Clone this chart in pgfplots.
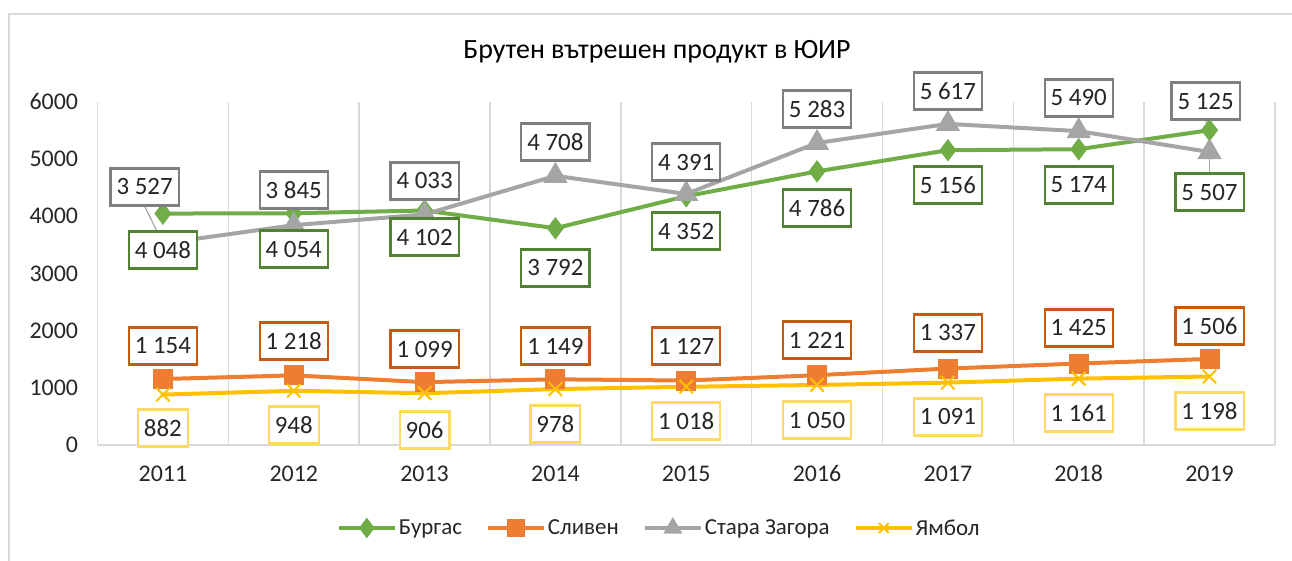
\documentclass[border=0pt]{standalone}
\usepackage{pgfplots}
\pgfplotsset{compat=1.18}
\usepackage{fontspec}
\setmainfont{Carlito}
\definecolor{cG}{HTML}{70AD47}
\definecolor{cGd}{HTML}{548235}
\definecolor{cO}{HTML}{ED7D31}
\definecolor{cOd}{HTML}{C55A11}
\definecolor{cS}{HTML}{A5A5A5}
\definecolor{cSd}{HTML}{7F7F7F}
\definecolor{cY}{HTML}{FFC000}
\definecolor{cYd}{HTML}{FFD966}
\definecolor{gridc}{HTML}{D9D9D9}
\begin{document}
\begin{tikzpicture}[x=1bp,y=1bp]
\path[use as bounding box] (0,0) rectangle (1292,561);
\draw[gridc, line width=1.5bp] (9,0) -- (9,547) -- (1292,547);
\node[font=\fontsize{28}{32}\selectfont] at (657,509) {Брутен вътрешен продукт в ЮИР};
\begin{axis}[
  at={(97.5bp,116bp)}, anchor=south west,
  width=1177.5bp, height=343bp, scale only axis,
  xmin=-0.5, xmax=8.5, ymin=0, ymax=6000,
  xtick={0,...,8},
  xticklabels={2011,2012,2013,2014,2015,2016,2017,2018,2019},
  ytick={0,1000,...,6000},
  minor xtick={-0.5,0.5,...,8.5},
  xminorgrids,
  minor grid style={gridc, line width=1.5bp},
  extra y ticks={0}, extra y tick labels={},
  extra y tick style={grid=major, major grid style={gridc, line width=1.5bp}},
  axis line style={draw=none},
  major tick length=0, minor tick length=0,
  tick label style={font=\fontsize{24}{28}\selectfont, text=black!85},
  /pgf/number format/assume math mode=true,
  /pgf/number format/1000 sep={},
  yticklabel style={xshift=-16bp},
  xticklabel style={yshift=-17bp},
  clip=false,
  legend columns=4,
  legend style={draw=none, at={(0.477,-0.242)}, anchor=center,
    font=\fontsize{23}{27}\selectfont, text=black!85,
    /tikz/every even column/.append style={column sep=22bp}},
  legend image code/.code={
    \draw[#1, mark repeat=2, mark phase=2, mark size=7bp] plot coordinates {(0bp,0bp) (28bp,0bp) (56bp,0bp)};
  },
  every node near coord/.append style={font=\fontsize{25}{29}\selectfont, text=black!85, fill=white,
    inner xsep=6bp, inner ysep=6bp, line width=2.2bp, anchor=center, minimum height=37bp},
]
% leader lines
\draw[cS, line width=1.2bp] (axis cs:-0.14,4180) -- (axis cs:0,3527);
\draw[cS, line width=1.2bp] (axis cs:7.97,5680) -- (axis cs:8,5507);
\draw[cS, line width=1.2bp] (axis cs:8,5125) -- (axis cs:8,4758);

\addplot[cG, line width=4bp, mark=diamond*, mark size=8bp, mark options={solid}] coordinates {
(0,4048) (1,4054) (2,4102) (3,3792) (4,4352) (5,4786) (6,5156) (7,5174) (8,5507)};
\addlegendentry{Бургас}
\addplot[cO, line width=4bp, mark=square*, mark size=8bp] coordinates {
(0,1154) (1,1218) (2,1099) (3,1149) (4,1127) (5,1221) (6,1337) (7,1425) (8,1506)};
\addlegendentry{Сливен}
\addplot[cS, line width=4bp, mark=triangle*, mark size=10bp] coordinates {
(0,3527) (1,3845) (2,4033) (3,4708) (4,4391) (5,5283) (6,5617) (7,5490) (8,5125)};
\addlegendentry{Стара Загора}
\addplot[cY, line width=4bp, mark=x, mark size=9.5bp, mark options={line width=2bp}] coordinates {
(0,882) (1,948) (2,906) (3,978) (4,1018) (5,1050) (6,1091) (7,1161) (8,1198)};
\addlegendentry{Ямбол}

% data labels
\addplot[draw=none, forget plot, nodes near coords, point meta=explicit symbolic,
  every node near coord/.append style={draw=cGd}] coordinates {
(0,3411)[4 048] (1,3428)[4 054] (2,3638)[4 102] (3,3096)[3 792] (4,3743)[4 352]
(5,4146)[4 786] (6,4548)[5 156] (7,4548)[5 174] (8.0,4425)[5 507]};
\addplot[draw=none, forget plot, nodes near coords, point meta=explicit symbolic,
  every node near coord/.append style={draw=cSd}] coordinates {
(-0.14,4513)[3 527] (1,4460)[3 845] (2,4618)[4 033] (3,5300)[4 708] (4,4950)[4 391]
(5,5877)[5 283] (6,6192)[5 617] (7,6070)[5 490] (7.97,6017)[5 125]};
\addplot[draw=none, forget plot, nodes near coords, point meta=explicit symbolic,
  every node near coord/.append style={draw=cOd}] coordinates {
(0,1732)[1 154] (1,1819)[1 218] (2,1679)[1 099] (3,1732)[1 149] (4,1732)[1 127]
(5,1837)[1 221] (6,1959)[1 337] (7,2047)[1 425] (8,2082)[1 506]};
\addplot[draw=none, forget plot, nodes near coords, point meta=explicit symbolic,
  every node near coord/.append style={draw=cYd}] coordinates {
(0,297)[882] (1,350)[948] (2,262)[906] (3,367)[978] (4,420)[1 018]
(5,437)[1 050] (6,490)[1 091] (7,560)[1 161] (8,595)[1 198]};
\end{axis}
\end{tikzpicture}
\end{document}
